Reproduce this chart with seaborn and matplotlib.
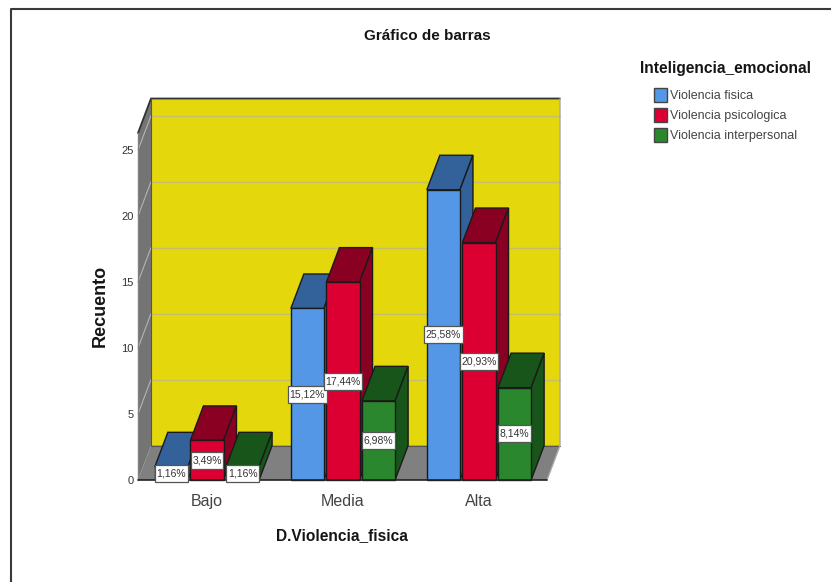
import numpy as np
import pandas as pd
import matplotlib
matplotlib.use("Agg")
import matplotlib.pyplot as plt
import seaborn as sns
from matplotlib.patches import Polygon, Rectangle
from matplotlib.transforms import IdentityTransform

categorias = ["Bajo", "Media", "Alta"]
series = ["Violencia fisica", "Violencia psicologica", "Violencia interpersonal"]
fisica = [1, 13, 22]
psicologica = [3, 15, 18]
interpersonal = [1, 6, 7]
pct_fisica = ["1,16%", "15,12%", "25,58%"]
pct_psicologica = ["3,49%", "17,44%", "20,93%"]
pct_interpersonal = ["1,16%", "6,98%", "8,14%"]
ticks = [0, 5, 10, 15, 20, 25]

colores = ["#5397e6", "#dc0032", "#2b872d"]
colores_top = ["#33619a", "#8a0022", "#17551a"]

df = pd.DataFrame({
    "cat": categorias * 3,
    "serie": np.repeat(series, 3),
    "n": fisica + psicologica + interpersonal,
    "pct": pct_fisica + pct_psicologica + pct_interpersonal,
})

W, H = 831, 582
sns.set_style("white")
plt.rcParams["font.family"] = ["Liberation Sans", "DejaVu Sans"]

fig = plt.figure(figsize=(W / 100, H / 100), dpi=100)
ax = fig.add_axes([138 / W, 1 - 480 / H, 409 / W, 347 / H])

sns.barplot(data=df, x="cat", y="n", hue="serie", order=categorias, hue_order=series,
            palette=colores, width=0.785, gap=0.07, saturation=1,
            edgecolor="#1a1a1a", linewidth=1, ax=ax, legend=False)

ax.set_xlim(-0.507, 2.5)
ax.set_ylim(0, 26.3)

# profundidad del falso 3D en unidades de datos
dx = 13 / 136
dy = 34.5 / 13.2
x0, x1 = ax.get_xlim()
y1 = ax.get_ylim()[1]

# paredes
ax.add_patch(Polygon([(x0 + dx, dy), (x1 + dx, dy), (x1 + dx, y1 + dy), (x0 + dx, y1 + dy)],
                     closed=True, fc="#e4d80c", ec="none", zorder=0.1, clip_on=False))
ax.add_patch(Polygon([(x0, 0), (x1, 0), (x1 + dx, dy), (x0 + dx, dy)],
                     closed=True, fc="#808080", ec="none", zorder=0.2, clip_on=False))
ax.add_patch(Polygon([(x0, 0), (x0 + dx, dy), (x0 + dx, y1 + dy), (x0, y1)],
                     closed=True, fc="#747474", ec="none", zorder=0.2, clip_on=False))
ax.plot([x0, x0 + dx, x1 + dx], [y1, y1 + dy, y1 + dy], color="#333333", lw=1.3, zorder=0.4, clip_on=False)
ax.plot([x0 + dx, x0 + dx, x1 + dx], [y1 + dy, dy, dy], color="#555555", lw=0.8, zorder=0.4, clip_on=False)
ax.plot([x1 + dx, x1 + dx, x1], [y1 + dy, dy, 0], color="#a8a8a8", lw=1, zorder=0.4, clip_on=False)
ax.plot([x0, x0], [0, y1], color="#808080", lw=1, zorder=0.4, clip_on=False)
for t in ticks[1:]:
    ax.plot([x0 + dx, x1 + dx], [t + dy, t + dy], color="#c4bd6a", lw=1, zorder=0.3, clip_on=False)
    ax.plot([x0, x0 + dx], [t, t + dy], color="#b4b4b4", lw=0.8, zorder=0.3, clip_on=False)

# barras: caras superior y lateral, de izquierda a derecha
bars = [p for c in ax.containers for p in c]
valores = df["pct"].tolist()
orden = sorted(range(len(bars)), key=lambda i: bars[i].get_x())
etiquetas = []
for rank, i in enumerate(orden):
    b = bars[i]
    xa, w, h = b.get_x(), b.get_width(), b.get_height()
    c = colores_top[i // 3]
    z = 2 + rank
    ax.add_patch(Polygon([(xa, h), (xa + w, h), (xa + w + dx, h + dy), (xa + dx, h + dy)],
                         closed=True, fc=c, ec="#1a1a1a", lw=1, zorder=z + 0.1, clip_on=False))
    ax.add_patch(Polygon([(xa + w, 0), (xa + w + dx, dy), (xa + w + dx, h + dy), (xa + w, h)],
                         closed=True, fc=c, ec="#1a1a1a", lw=1, zorder=z + 0.1, clip_on=False))
    b.set_zorder(z + 0.2)
    b.set_clip_on(False)
    etiquetas.append(ax.text(xa + w / 2, h / 2, valores[i], ha="center", va="center", fontsize=7.5,
                             color="#333333", zorder=50, clip_on=False))

ax.plot([x0, x1], [0, 0], color="#222222", lw=1.2, zorder=40, clip_on=False)

sns.despine(ax=ax, left=True, bottom=True)
ax.patch.set_visible(False)
ax.set_yticks(ticks)
ax.set_ylabel("")
ax.set_xlabel("")
ax.tick_params(axis="y", length=0, labelsize=8, labelcolor="#333333", pad=3)
ax.tick_params(axis="x", length=0, labelsize=11.5, labelcolor="#444444", pad=10)

# recuadro blanco de cada etiqueta, mas alto que ancho de margen
fig.canvas.draw()
for t in etiquetas:
    bb = t.get_window_extent()
    cy = (bb.y0 + bb.y1) / 2
    ax.add_patch(Rectangle((bb.x0 - 1.5, cy - 8.5), bb.width + 3, 17, transform=IdentityTransform(),
                           fc="white", ec="#555555", lw=0.9, zorder=49, clip_on=False))

fig.text(427 / W, 1 - 36 / H, "Gráfico de barras", ha="center", va="center", fontsize=11, fontweight="bold", color="#151515")
fig.text(100 / W, 1 - 306 / H, "Recuento", ha="center", va="center", rotation=90, fontsize=13, fontweight="bold", color="#151515")
fig.text(342 / W, 1 - 536 / H, "D.Violencia_fisica", ha="center", va="center", fontsize=11.2, fontweight="bold", color="#151515")
fig.text(640 / W, 1 - 68 / H, "Inteligencia_emocional", ha="left", va="center", fontsize=11.2, fontweight="bold", color="#151515")

# leyenda
for nombre, color, yp in zip(series, colores, [95, 115, 135]):
    fig.add_artist(Rectangle((654 / W, 1 - (yp + 7) / H), 13 / W, 14 / H, transform=fig.transFigure,
                             fc=color, ec="#444444", lw=1))
    fig.text(670 / W, 1 - (yp + 1) / H, nombre, ha="left", va="center", fontsize=9, color="#444444")

# marco de la captura
fig.add_artist(plt.Line2D([11 / W, 11 / W, 1], [0, 1 - 9 / H, 1 - 9 / H], transform=fig.transFigure,
                          color="#3a3a3a", lw=1.5))

fig.savefig("out.png", dpi=100, facecolor="white")
